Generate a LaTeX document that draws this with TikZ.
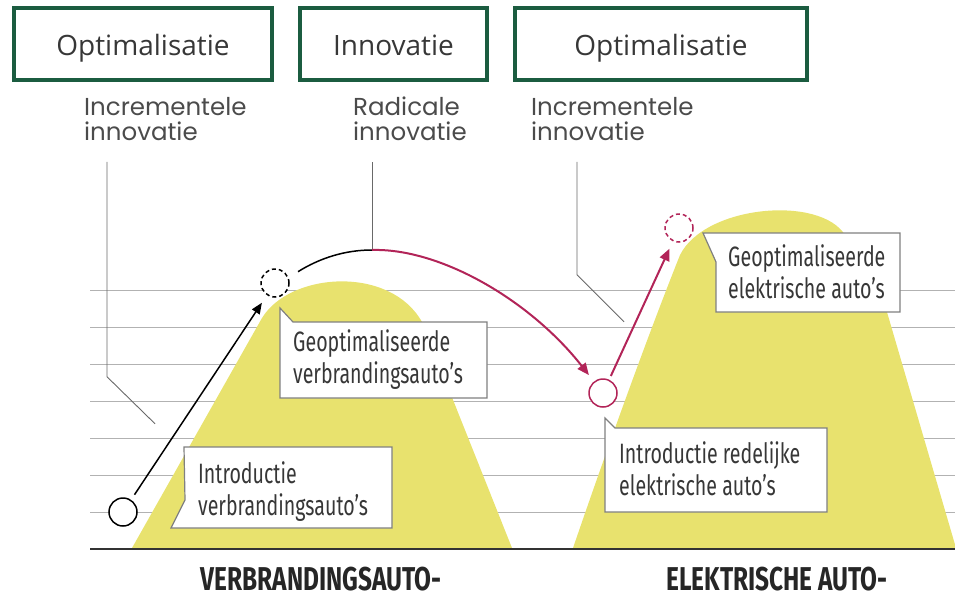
\documentclass[tikz,border=0pt]{standalone}
\usepackage{fontspec}
\setmainfont{Open Sans}
\newfontfamily\labelfont{Poppins}
\newfontfamily\condfont[FakeStretch=0.7]{Fira Sans}
\newfontfamily\modelfont[FakeStretch=0.74]{Fira Sans}
\usetikzlibrary{arrows.meta,calc,positioning}
\definecolor{boxgreen}{RGB}{27,92,64}
\definecolor{hill}{RGB}{232,226,110}
\definecolor{berry}{RGB}{178,36,88}
\definecolor{rule}{RGB}{178,178,178}
\definecolor{lead}{RGB}{105,105,105}
\definecolor{ink}{RGB}{55,55,55}

\begin{document}
\begin{tikzpicture}[x=1pt,y=-1pt,
  phase/.style={draw=boxgreen,line width=3.5pt,minimum height=72pt,text height=25pt,text depth=2pt,text=ink,font=\fontsize{28}{32}\selectfont},
  kind/.style={anchor=north west,inner sep=0pt,align=left,text=ink!90,font=\labelfont\fontsize{24.5}{25}\selectfont},
  note/.style={anchor=base west,inner sep=0pt,align=left,text=ink,font=\condfont\fontsize{28}{32}\selectfont},
  bubble/.style={draw=black!50,fill=white,line width=1.2pt},
  dot/.style={circle,draw,fill=white,line width=1.5pt,minimum size=28pt,inner sep=0pt},
  leader/.style={draw=lead,line width=0.9pt},
  model/.style={anchor=base,inner sep=0pt,text=black!85,font=\modelfont\bfseries\fontsize{33}{34}\selectfont}]
\useasboundingbox (0,0) rectangle (955,597);
\node[phase,minimum width=258pt] (opt1) at (143,44) {Optimalisatie};
\node[phase,minimum width=187pt] (inno) at (393.5,44) {Innovatie};
\node[phase,minimum width=292pt] (opt2) at (661,44) {Optimalisatie};
\node[kind] (inc1) at (84,97) {Incrementele\\innovatie};
\node[kind] (rad) at (353,97) {Radicale\\innovatie};
\node[kind] (inc2) at (531,97) {Incrementele\\innovatie};
\foreach \y in {290,327,...,512}
  \draw[rule,line width=1pt] (90,\y) -- (955,\y);
\fill[hill] (132,548) -- (262,318) .. controls (290,272) and (390,265) .. (422,322) -- (512,548) -- cycle;
\fill[hill] (573,548) .. controls (610,440) and (650,330) .. (680,255) .. controls (705,205) and (820,195) .. (845,235) .. controls (860,255) and (872,270) .. (882,295) -- (956,548) -- cycle;
\draw[black!80,line width=2.5pt] (90,549) -- (955,549);
\coordinate (top) at (372,250);
\draw[leader] ([xshift=23pt,yshift=-21pt]inc1.south west) -- ++(0,215) -- ++(48,47);
\draw[leader] ([xshift=19pt,yshift=-21pt]rad.south west) -- (top);
\draw[leader] ([xshift=46pt,yshift=-21pt]inc2.south west) -- ++(0,113) -- ++(47,47);
\draw[bubble] (184,447) -- (392,447) -- (392,528) -- (171,528) -- (185,500) -- cycle;
\draw[bubble] (280,308) -- (293,322) -- (487,322) -- (487,398) -- (280,398) -- cycle;
\draw[bubble] (703,233) -- (900,233) -- (900,312) -- (716,312) -- (716,262) -- cycle;
\draw[bubble] (605,418) -- (615,428) -- (827,428) -- (827,512) -- (605,512) -- cycle;
\node[note] (intro1) at (198,515) {Introductie\\verbrandingsauto’s};
\node[note] (geopt1) at (293,383) {Geoptimaliseerde\\verbrandingsauto’s};
\node[note] (geopt2) at (728,298) {Geoptimaliseerde\\elektrische auto’s};
\node[note] (intro2) at (619,495) {Introductie redelijke\\elektrische auto’s};
\node[dot] (start1) at (123,512) {};
\node[dot,dash pattern=on 4pt off 3pt] (peak1) at (275,283) {};
\node[dot,draw=berry] (start2) at (603,393) {};
\node[dot,draw=berry,dash pattern=on 4pt off 3pt] (peak2) at (679,228) {};
\draw[line width=1.5pt,-{Triangle[length=11pt,width=9pt]},shorten <=6pt,shorten >=9pt] (start1) -- (peak1);
\draw[line width=1.5pt,shorten <=11pt] (peak1.22) .. controls (320,258) and (345,250) .. (top);
\draw[berry,line width=2pt,-{Triangle[length=12pt,width=10pt]},shorten >=8pt] (top) .. controls (440,248) and (530,300) .. (start2);
\draw[berry,line width=2pt,-{Triangle[length=12pt,width=10pt]},shorten <=4pt,shorten >=8pt] (start2) -- (peak2);
\node[model] (verbr) at (321,590) {VERBRANDINGSAUTO-};
\node[model] (elek) at (777,590) {ELEKTRISCHE AUTO-};
\end{tikzpicture}
\end{document}
